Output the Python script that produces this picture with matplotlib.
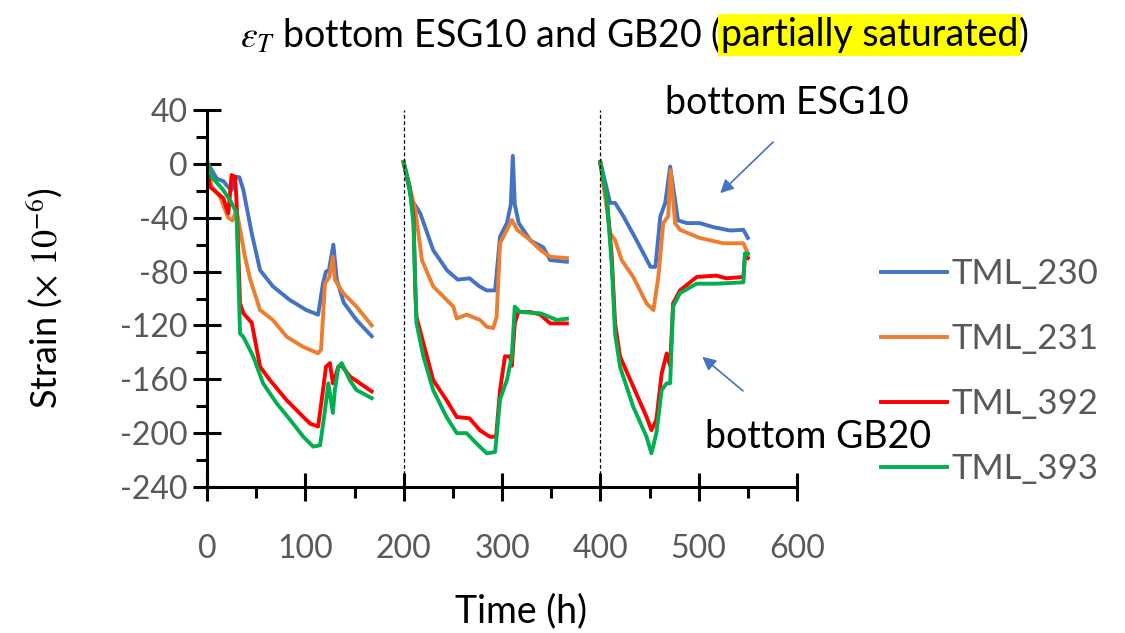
import numpy as np
import matplotlib
matplotlib.use("Agg")
import matplotlib.pyplot as plt
from matplotlib.ticker import MultipleLocator

plt.rcParams['font.family'] = ['Lato', 'DejaVu Sans']
plt.rcParams['mathtext.fontset'] = 'stix'
plt.rcParams['axes.unicode_minus'] = False

nan = np.nan
labels = ['TML_230', 'TML_231', 'TML_392', 'TML_393']
colors = ['#4472C4', '#ED7D31', '#FF0000', '#00B050']

# three test runs, separated by nan
t_230 = [0, 10, 17, 20, 25, 30, 33, 37, 45.5, 54, 67, 84, 101, 113, 118, 121, 124, 128.5, 132, 139, 152, 167.5, nan,
         200, 208, 213, 217, 230, 244, 255, 267, 277, 284.5, 293, 298, 305, 309, 311, 313, 317, 329, 342, 349, 366, nan,
         400, 410, 415, 423.5, 437, 451, 456, 461, 466, 471, 474, 479, 488, 501, 515, 532, 545.5, 550]
y_230 = [1.5, -11, -13, -16, -19.5, -9.6, -10, -19.5, -51.6, -79, -91, -101, -108.6, -112, -88.6, -80, -79, -60, -86, -103, -116, -128, nan,
         1.5, -27, -32, -37, -64, -79, -86, -85, -91, -94, -94, -54, -44, -30, 6, -30, -44, -57, -62, -71.5, -72.7, nan,
         1.5, -29, -29, -39, -57, -76.5, -76.5, -39, -29, -2, -17, -42, -44, -44, -47, -49.5, -49, -55]

t_231 = [0, 4.7, 13, 21.5, 26, 30, 38.6, 44, 54, 67, 81, 98, 113, 116, 120, 124.4, 128, 130, 138.6, 152, 167.5, nan,
         200, 206, 211.8, 215, 218.6, 230, 243.6, 250.5, 254, 264, 271, 277.7, 284.5, 291, 294.5, 298, 305, 310, 315.5, 328.6, 339, 349, 366, nan,
         400, 410, 415, 421.7, 433.5, 447, 454, 459, 464, 469, 471.5, 476, 481, 501, 525, 545.5, 550]
y_231 = [1.5, -17, -24, -40, -42, -34, -69, -86, -108.6, -116, -128.4, -136, -140.7, -138, -88.6, -84, -69, -86, -96, -106, -120, nan,
         1.5, -17, -34, -51.6, -71.5, -91, -101, -106, -114.8, -112, -114, -116, -121, -122, -114, -59, -49, -41.7, -49, -56.6, -64, -69, -70, nan,
         1.5, -51.6, -56.6, -71.5, -84, -103.6, -108.6, -84, -44, -39, -4.6, -44, -49, -55, -59, -59, -66.5]

t_392 = [0, 3, 16.6, 21.7, 25, 28.5, 30, 33.6, 37, 45.5, 54, 64, 81, 98, 105, 113, 118, 121, 125, 128, 133.6, 137, 145.5, 155.6, 167.5, nan,
         200, 206, 210, 211.8, 213, 220, 230, 243.6, 254, 267, 277.7, 287.8, 294, 298, 303, 308, 310, 313, 316.6, 328.6, 339, 349, 366, nan,
         400, 406.5, 411.6, 415, 420, 433.5, 447, 452, 457, 462.4, 467.5, 471, 474, 481, 498, 518, 528, 545.5, 547, 550]
y_392 = [0, -17, -25.6, -36.8, -8.3, -9.6, -27, -103.6, -111, -118, -150.7, -160.6, -175.5, -188, -193, -195, -168, -150.7, -148, -163, -150.7, -150, -158, -163, -169, nan,
         0, -17, -39, -94, -113.6, -133, -160.6, -175.5, -188, -189, -198, -202.7, -202.7, -168, -143, -143, -150, -118.5, -110, -110, -112, -118.5, -118.5, nan,
         0, -24.5, -69, -118.5, -143, -165.5, -188, -197.8, -190, -155.6, -140.8, -150, -103.6, -94, -84, -83, -85, -84, -69, -70]

t_393 = [0, 4.7, 16.6, 25, 27, 30, 33.6, 37, 47, 57, 71, 84.4, 98, 108, 115, 120, 123.4, 128, 130, 133.6, 137, 145.5, 152, 167.5, nan,
         200, 206, 210, 213, 220, 230, 243.6, 254, 264, 274, 284.5, 293, 298, 305, 310, 313, 318, 339, 356, 366, nan,
         400, 406.5, 411.6, 415, 420, 433.5, 447, 452, 457, 462.4, 467.5, 471, 474, 481, 498, 518, 545.5, 547, 550]
y_393 = [1.5, -9.6, -19.5, -29, -32, -36, -126, -128.5, -143, -163, -178, -190, -202.7, -210, -209, -183, -163, -185, -168, -150.7, -148, -161, -168, -174, nan,
         1.5, -17, -45, -118, -143, -168, -188, -200, -200, -207.6, -215, -214, -175, -160.6, -143, -106, -110, -111, -116, -115, nan,
         1.5, -24.5, -75, -126, -150.7, -180.5, -202.7, -215, -200, -168, -163, -163, -106, -96, -89, -89, -88, -66.5, -67]

run_starts = [200, 400]

fig = plt.figure(figsize=(11.25, 6.33), dpi=100)
ax = fig.add_axes([207/1125, 1 - 487/633, 590/1125, 377/633])

series = [(t_230, y_230), (t_231, y_231), (t_392, y_392), (t_393, y_393)]
for (t, y), c, lab in zip(series, colors, labels):
    ax.plot(t, y, color=c, lw=2.8, label=lab)

for xs in run_starts:
    ax.axvline(xs, color='black', lw=0.9, ls=(0, (3, 2)))

ax.set_xlim(0, 600)
ax.set_ylim(-240, 40)
ax.xaxis.set_major_locator(MultipleLocator(100))
ax.xaxis.set_minor_locator(MultipleLocator(50))
ax.yaxis.set_major_locator(MultipleLocator(40))
ax.yaxis.set_minor_locator(MultipleLocator(20))

for s in ['top', 'right']:
    ax.spines[s].set_visible(False)
for s in ['left', 'bottom']:
    ax.spines[s].set_linewidth(2.2)

ax.tick_params(which='major', direction='inout', length=20, width=2.2, labelsize=23, labelcolor='#595959')
ax.tick_params(axis='x', which='major', pad=24)
ax.tick_params(axis='y', which='major', pad=4)
ax.tick_params(which='minor', direction='out', length=8, width=2.2)

ax.set_ylabel(r'Strain ($\times\ 10^{-6}$)', fontsize=26, labelpad=40)
ax.set_xlabel('Time (h)', fontsize=27)
ax.xaxis.set_label_coords(0.532, -0.283)

fig.legend(loc='upper left', bbox_to_anchor=(867/1125, 1 - 244/633), frameon=False,
           fontsize=25, labelcolor='#595959', handlelength=1.9, handletextpad=0.12,
           labelspacing=0.95, borderaxespad=0)

arrow = dict(arrowstyle='-|>', color='#4472C4', lw=1.2, mutation_scale=20)
ax.annotate('', xy=(519.8, -23.2), xytext=(577.8, 17.7), arrowprops=arrow, annotation_clip=False)
ax.annotate('', xy=(501.5, -142), xytext=(547.3, -170), arrowprops=arrow, annotation_clip=False)
ax.text(590, 45, 'bottom ESG10', fontsize=27, ha='center', va='center', clip_on=False)
ax.text(621.6, -203, 'bottom GB20', fontsize=27, ha='center', va='center', clip_on=False)

# title in three parts so one part can be highlighted
ty = 1 - 35/633
p1 = fig.text(0, ty, r'$\varepsilon_T$ bottom ESG10 and GB20 (', fontsize=27, va='center')
p2 = fig.text(0, ty, 'partially saturated', fontsize=27, va='center',
              bbox=dict(facecolor='#FFFF00', edgecolor='none', pad=2))
p3 = fig.text(0, ty, ')', fontsize=27, va='center')
r = fig.canvas.get_renderer()
w1 = p1.get_window_extent(r).width
w2 = p2.get_window_extent(r).width
w3 = p3.get_window_extent(r).width
x0 = 634 - (w1 + w2 + w3) / 2
p1.set_x(x0 / 1125)
p2.set_x((x0 + w1) / 1125)
p3.set_x((x0 + w1 + w2) / 1125)

fig.savefig('out.png', dpi=100)
